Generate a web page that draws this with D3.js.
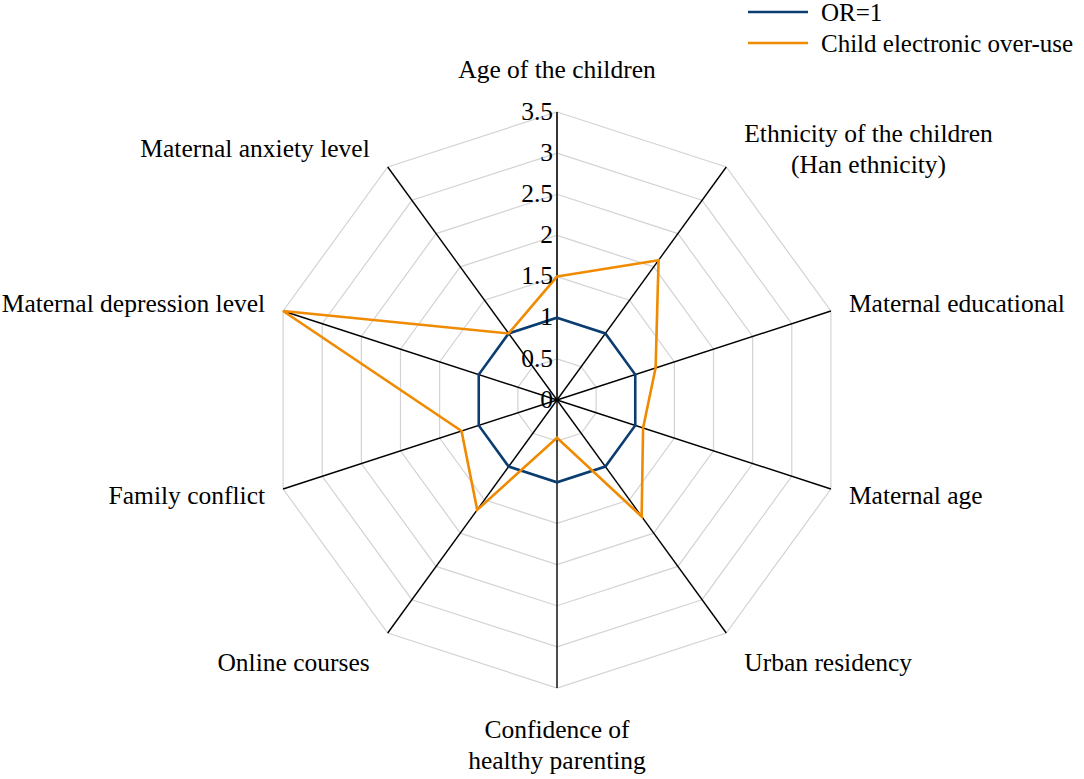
<!DOCTYPE html>
<html>
<head>
<meta charset="utf-8">
<script src="https://cdn.jsdelivr.net/npm/d3@7"></script>
<style>
  body { margin: 0; background: #fff; }
  text { font-family: "Liberation Serif", "Times New Roman", serif; fill: #000; }
</style>
</head>
<body>
<div id="radar"></div>
<script>
// categories (clockwise from top), multi-line labels split with "\n"
var categories = [
  "Age of the children",
  "Ethnicity of the children\n(Han ethnicity)",
  "Maternal educational",
  "Maternal age",
  "Urban residency",
  "Confidence of\nhealthy parenting",
  "Online courses",
  "Family conflict",
  "Maternal depression level",
  "Maternal anxiety level"
];
var orValues = [1, 1, 1, 1, 1, 1, 1, 1, 1, 1];
var overuseValues = [1.5, 2.1, 1.26, 1.1, 1.75, 0.46, 1.65, 1.22, 3.5, 1.0];
var tickValues = [0, 0.5, 1, 1.5, 2, 2.5, 3, 3.5];
var seriesNames = ["OR=1", "Child electronic over-use"];
var seriesColors = ["#0b3d70", "#f08a00"];

var svgWidth = 1084;
var svgHeight = 779;
var cx = 557, cy = 400;
var R = 288;

var svg = d3.select("#radar")
  .append("svg")
  .attr("width", svgWidth)
  .attr("height", svgHeight);

var g = svg.append("g").attr("transform", `translate(${cx}, ${cy})`);

var rScale = d3.scaleLinear().domain([0, 3.5]).range([0, R]);
var n = categories.length;
var angle = i => i * 2 * Math.PI / n;
var px = (i, v) => rScale(v) * Math.sin(angle(i));
var py = (i, v) => -rScale(v) * Math.cos(angle(i));

// grid decagons
g.selectAll(".grid")
  .data(tickValues.slice(1))
  .enter()
  .append("polygon")
  .attr("points", t => d3.range(n).map(i => px(i, t) + "," + py(i, t)).join(" "))
  .attr("fill", "none")
  .attr("stroke", "#d3d3d3")
  .attr("stroke-width", 1.2);

// spokes
g.selectAll(".spoke")
  .data(categories)
  .enter()
  .append("line")
  .attr("x1", 0).attr("y1", 0)
  .attr("x2", (d, i) => px(i, 3.5))
  .attr("y2", (d, i) => py(i, 3.5))
  .attr("stroke", (d, i) => i == 0 ? "#333" : "#000")
  .attr("stroke-width", (d, i) => i == 0 ? 2 : 1.4);

// series
var line = d3.lineRadial()
  .angle((d, i) => angle(i))
  .radius(d => rScale(d))
  .curve(d3.curveLinearClosed);

[orValues, overuseValues].forEach(function(vals, k) {
  g.append("path")
    .attr("d", line(vals))
    .attr("fill", "none")
    .attr("stroke", seriesColors[k])
    .attr("stroke-width", 2.6)
    .attr("stroke-linejoin", "miter");
});

// tick labels along the top spoke
g.selectAll(".tick")
  .data(tickValues)
  .enter()
  .append("text")
  .attr("x", -4)
  .attr("y", d => -rScale(d))
  .attr("dy", "0.3em")
  .attr("text-anchor", "end")
  .style("font-size", "25.5px")
  .text(d => d);

// category labels
categories.forEach(function(label, i) {
  var s = Math.sin(angle(i)), c = Math.cos(angle(i));
  var lines = label.split("\n");
  var lh = 31;
  var side = Math.abs(s) < 0.01 ? 0 : (s > 0 ? 1 : -1);
  var ax = R * s + 18 * side;
  var ay = -(R + 22) * c;
  if (c > 0.99) ay -= 20;
  else if (c < -0.99) ay += 35;
  else if (c < -0.5) ay += 12;

  var tg = g.append("g");
  var texts = tg.selectAll("text")
    .data(lines)
    .enter()
    .append("text")
    .attr("y", (d, j) => ay + (j - (lines.length - 1) / 2) * lh)
    .attr("dy", "0.32em")
    .attr("text-anchor", "middle")
    .style("font-size", "25.5px")
    .text(d => d);

  var w = d3.max(texts.nodes(), t => t.getComputedTextLength());
  texts.attr("x", ax + side * w / 2);
});

// legend
var legend = svg.append("g").attr("transform", "translate(748, 13)");
seriesNames.forEach(function(name, k) {
  legend.append("line")
    .attr("x1", 0).attr("x2", 60)
    .attr("y1", k * 31 - 1).attr("y2", k * 31 - 1)
    .attr("stroke", seriesColors[k])
    .attr("stroke-width", 2.4);
  legend.append("text")
    .attr("x", 73)
    .attr("y", k * 31)
    .attr("dy", "0.32em")
    .style("font-size", "25px")
    .text(name);
});
</script>
</body>
</html>
